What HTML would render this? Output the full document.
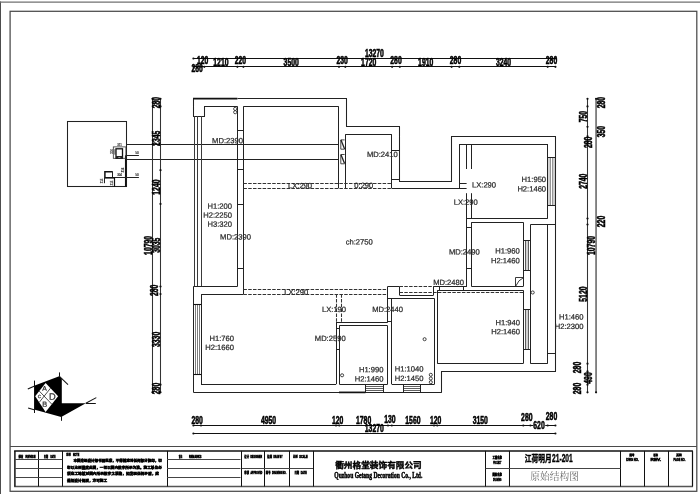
<!DOCTYPE html>
<html lang="zh"><head><meta charset="utf-8"><title>原始结构图</title>
<style>
html,body{margin:0;padding:0;background:#fff;}
body{width:700px;height:494px;overflow:hidden;}
svg{display:block;filter:grayscale(1);font-family:"Liberation Sans","Noto Sans CJK SC",sans-serif;}
text.d{font-size:10.4px;font-weight:bold;fill:#000;stroke:#000;stroke-width:0.55px;}
text.tb{font-weight:bold;fill:#000;stroke:#000;}
</style></head><body>
<svg width="700" height="494" viewBox="0 0 700 494">
<rect x="0" y="0" width="700" height="494" fill="#fff"/>
<line x1="0.3" y1="1.5" x2="0.3" y2="494" stroke="#444" stroke-width="1.3" />
<line x1="0" y1="2.1" x2="700" y2="2.1" stroke="#707070" stroke-width="1.4" />
<rect x="10.1" y="11.3" width="686.7" height="480" fill="none" stroke="#4a4a4a" stroke-width="1.25"/>
<line x1="10.1" y1="446.5" x2="696.8" y2="446.5" stroke="#4a4a4a" stroke-width="1.15" />
<line x1="14.1" y1="451.1" x2="692.9" y2="451.1" stroke="#111" stroke-width="1.5" />
<line x1="14.1" y1="486.5" x2="692.9" y2="486.5" stroke="#555" stroke-width="1.5" />
<line x1="14.9" y1="451.1" x2="14.9" y2="486.5" stroke="#111" stroke-width="1.5" />
<line x1="692.5" y1="451.1" x2="692.5" y2="486.5" stroke="#111" stroke-width="1.2" />
<line x1="38.5" y1="450.9" x2="38.5" y2="486.5" stroke="#111" stroke-width="1.05" />
<line x1="62.5" y1="450.9" x2="62.5" y2="486.5" stroke="#111" stroke-width="1.05" />
<line x1="167.5" y1="450.9" x2="167.5" y2="486.5" stroke="#111" stroke-width="1.05" />
<line x1="241.5" y1="450.9" x2="241.5" y2="486.5" stroke="#111" stroke-width="1.05" />
<line x1="264.5" y1="450.9" x2="264.5" y2="486.5" stroke="#111" stroke-width="1.05" />
<line x1="289.5" y1="450.9" x2="289.5" y2="486.5" stroke="#111" stroke-width="1.05" />
<line x1="313.5" y1="450.9" x2="313.5" y2="486.5" stroke="#111" stroke-width="1.05" />
<line x1="485.5" y1="450.9" x2="485.5" y2="486.5" stroke="#111" stroke-width="1.05" />
<line x1="509.5" y1="450.9" x2="509.5" y2="486.5" stroke="#111" stroke-width="1.05" />
<line x1="620.5" y1="450.9" x2="620.5" y2="486.5" stroke="#111" stroke-width="1.05" />
<line x1="644.5" y1="450.9" x2="644.5" y2="486.5" stroke="#111" stroke-width="1.05" />
<line x1="668.5" y1="450.9" x2="668.5" y2="486.5" stroke="#111" stroke-width="1.05" />
<line x1="14.8" y1="459.5" x2="62.3" y2="459.5" stroke="#444" stroke-width="1.05" />
<line x1="167" y1="459.5" x2="240.5" y2="459.5" stroke="#444" stroke-width="1.05" />
<line x1="14.8" y1="468.5" x2="62.3" y2="468.5" stroke="#444" stroke-width="1.05" />
<line x1="167" y1="468.5" x2="240.5" y2="468.5" stroke="#444" stroke-width="1.05" />
<line x1="14.8" y1="477.5" x2="62.3" y2="477.5" stroke="#444" stroke-width="1.05" />
<line x1="167" y1="477.5" x2="240.5" y2="477.5" stroke="#444" stroke-width="1.05" />
<line x1="241.8" y1="468.5" x2="313.0" y2="468.5" stroke="#444" stroke-width="1.05" />
<line x1="485.6" y1="468.5" x2="620.5" y2="468.5" stroke="#444" stroke-width="1.05" />
<rect x="67.5" y="121.5" width="59" height="65" fill="none" stroke="#222" stroke-width="1.05"/>
<line x1="126.5" y1="144.5" x2="338.7" y2="144.5" stroke="#222" stroke-width="1.05" />
<line x1="126.5" y1="159.5" x2="338.7" y2="159.5" stroke="#222" stroke-width="1.05" />
<line x1="125.7" y1="155.3" x2="125.7" y2="186.9" stroke="#111" stroke-width="1.5" />
<line x1="126.3" y1="155.5" x2="138.9" y2="155.5" stroke="#222" stroke-width="1.05" />
<line x1="104.4" y1="177.5" x2="138.9" y2="177.5" stroke="#222" stroke-width="1.05" />
<rect x="113.3" y="146.9" width="12.6" height="11.4" fill="none" stroke="#333" stroke-width="0.8"/>
<rect x="116.0" y="148.8" width="6.5" height="9.4" fill="none" stroke="#111" stroke-width="1.3"/>
<rect x="116.0" y="156.0" width="6.5" height="2.4" fill="#222"/>
<line x1="118.3" y1="157.5" x2="120.4" y2="157.5" stroke="#ddd" stroke-width="0.6" />
<line x1="114.5" y1="149.2" x2="114.5" y2="154.6" stroke="#333" stroke-width="0.5" />
<line x1="115.5" y1="149.2" x2="115.5" y2="154.6" stroke="#333" stroke-width="0.5" />
<polyline points="104.9,177.1 104.9,171.8 112.5,171.8" fill="none" stroke="#111" stroke-width="1.5" />
<line x1="112.5" y1="171.3" x2="112.5" y2="177.4" stroke="#222" stroke-width="1.05" />
<line x1="104.2" y1="177.9" x2="114.4" y2="177.9" stroke="#111" stroke-width="1.4" />
<line x1="114.5" y1="177.4" x2="114.5" y2="186.9" stroke="#111" stroke-width="1.2" />
<line x1="104.5" y1="177.4" x2="104.5" y2="183.2" stroke="#222" stroke-width="1.05" />
<text x="119.5" y="146.0" font-size="2.8" fill="#222" stroke="#222" stroke-width="0.15" text-anchor="middle">311</text>
<text x="137" y="154.4" font-size="2.8" fill="#222" stroke="#222" stroke-width="0.15" text-anchor="middle">50</text>
<text x="137" y="175.9" font-size="2.8" fill="#222" stroke="#222" stroke-width="0.15" text-anchor="middle">50</text>
<text x="119.5" y="176.3" font-size="2.8" fill="#222" stroke="#222" stroke-width="0.15" text-anchor="middle">304</text>
<text transform="translate(112.6,151.5) rotate(-90)" font-size="2.8" fill="#222" stroke="#222" stroke-width="0.15" text-anchor="middle">310</text>
<text transform="translate(124.2,170) rotate(-90)" font-size="2.8" fill="#222" stroke="#222" stroke-width="0.15" text-anchor="middle">816</text>
<text transform="translate(103.4,181) rotate(-90)" font-size="2.8" fill="#222" stroke="#222" stroke-width="0.15" text-anchor="middle">215</text>
<text transform="translate(113.2,183) rotate(-90)" font-size="2.8" fill="#222" stroke="#222" stroke-width="0.15" text-anchor="middle">315</text>
<line x1="193.0" y1="98.65" x2="237.4" y2="98.65" stroke="#111" stroke-width="1.7" />
<polyline points="237.5,98.5 346.5,98.5 346.5,126.5 399.5,126.5 399.5,181.5 451.5,181.5 451.5,136.5 555.5,136.5 555.5,371.5 441.5,371.5 441.5,392.5" fill="none" stroke="#222" stroke-width="1.05" />
<polyline points="193.5,98.5 193.5,116.5 204.5,116.5 204.5,106.5 237.5,106.5" fill="none" stroke="#222" stroke-width="1.05" />
<line x1="194.5" y1="116" x2="194.5" y2="286.5" stroke="#3a3a3a" stroke-width="1.05" />
<line x1="197.5" y1="116" x2="197.5" y2="286.5" stroke="#3a3a3a" stroke-width="1.05" />
<line x1="201.5" y1="116" x2="201.5" y2="286.5" stroke="#3a3a3a" stroke-width="1.05" />
<line x1="237.5" y1="106.4" x2="237.5" y2="286.5" stroke="#222" stroke-width="1.05" />
<line x1="243.5" y1="106.4" x2="243.5" y2="294.2" stroke="#222" stroke-width="1.05" />
<line x1="237.4" y1="130.5" x2="243.4" y2="130.5" stroke="#222" stroke-width="1.05" />
<line x1="237.4" y1="169.5" x2="243.4" y2="169.5" stroke="#222" stroke-width="1.05" />
<line x1="237.4" y1="204.5" x2="243.4" y2="204.5" stroke="#222" stroke-width="1.05" />
<line x1="237.4" y1="268.5" x2="243.4" y2="268.5" stroke="#222" stroke-width="1.05" />
<line x1="193.4" y1="286.5" x2="237.4" y2="286.5" stroke="#222" stroke-width="1.05" />
<line x1="201.2" y1="294.5" x2="243.4" y2="294.5" stroke="#222" stroke-width="1.05" />
<line x1="193.5" y1="286.5" x2="193.5" y2="392.3" stroke="#222" stroke-width="1.05" />
<line x1="243.4" y1="106.5" x2="338.7" y2="106.5" stroke="#222" stroke-width="1.05" />
<line x1="338.5" y1="106.4" x2="338.5" y2="188.4" stroke="#222" stroke-width="1.05" />
<line x1="345.5" y1="134.4" x2="345.5" y2="188.4" stroke="#222" stroke-width="1.05" />
<line x1="345.3" y1="134.5" x2="391.8" y2="134.5" stroke="#222" stroke-width="1.05" />
<line x1="391.5" y1="134.4" x2="391.5" y2="188.4" stroke="#222" stroke-width="1.05" />
<line x1="391.8" y1="150.5" x2="399.8" y2="150.5" stroke="#222" stroke-width="1.05" />
<line x1="391.8" y1="179.5" x2="399.8" y2="179.5" stroke="#222" stroke-width="1.05" />
<line x1="391.8" y1="188.5" x2="466.6" y2="188.5" stroke="#222" stroke-width="1.05" />
<line x1="243.4" y1="183.5" x2="391.8" y2="183.5" stroke="#333" stroke-width="1.05" stroke-dasharray="3.5 1.3"/>
<line x1="243.4" y1="188.5" x2="391.8" y2="188.5" stroke="#333" stroke-width="1.05" stroke-dasharray="3.5 1.3"/>
<line x1="459.3" y1="144.5" x2="547.7" y2="144.5" stroke="#222" stroke-width="1.05" />
<line x1="459.5" y1="144" x2="459.5" y2="188.4" stroke="#222" stroke-width="1.05" />
<line x1="547.5" y1="144" x2="547.5" y2="218.5" stroke="#222" stroke-width="1.05" />
<line x1="466.5" y1="144" x2="466.5" y2="169" stroke="#222" stroke-width="1.05" />
<line x1="471.5" y1="144" x2="471.5" y2="169" stroke="#222" stroke-width="1.05" />
<line x1="466.5" y1="193.2" x2="466.5" y2="286.9" stroke="#222" stroke-width="1.05" />
<line x1="471.5" y1="193.2" x2="471.5" y2="218.5" stroke="#222" stroke-width="1.05" />
<line x1="471.5" y1="222.3" x2="471.5" y2="286.4" stroke="#222" stroke-width="1.05" />
<line x1="459.3" y1="183.5" x2="466.6" y2="183.5" stroke="#222" stroke-width="1.05" />
<line x1="466.6" y1="218.5" x2="547.7" y2="218.5" stroke="#222" stroke-width="1.05" />
<rect x="548.2" y="157.4" width="2.5" height="48.2" fill="#cdcdcd"/><rect x="552.3" y="157.4" width="2.7" height="48.2" fill="#cdcdcd"/>
<line x1="550.5" y1="157.4" x2="550.5" y2="205.6" stroke="#666" stroke-width="0.6" />
<line x1="552.5" y1="157.4" x2="552.5" y2="205.6" stroke="#666" stroke-width="0.6" />
<line x1="547.7" y1="157.5" x2="555.4" y2="157.5" stroke="#222" stroke-width="1.05" />
<line x1="547.7" y1="205.5" x2="555.4" y2="205.5" stroke="#222" stroke-width="1.05" />
<line x1="471.4" y1="222.5" x2="523.3" y2="222.5" stroke="#222" stroke-width="1.05" />
<line x1="523.5" y1="222.3" x2="523.5" y2="286.4" stroke="#222" stroke-width="1.05" />
<line x1="530.5" y1="224.6" x2="530.5" y2="363.5" stroke="#222" stroke-width="1.05" />
<line x1="530.4" y1="224.5" x2="555.4" y2="224.5" stroke="#222" stroke-width="1.05" />
<line x1="547.5" y1="224.6" x2="547.5" y2="363.5" stroke="#222" stroke-width="1.05" />
<line x1="547.7" y1="353.5" x2="555.4" y2="353.5" stroke="#222" stroke-width="1.05" />
<line x1="530.4" y1="363.5" x2="547.7" y2="363.5" stroke="#222" stroke-width="1.05" />
<rect x="525.3" y="240.0" width="3.2" height="30.8" fill="#d2d2d2"/>
<line x1="525.5" y1="240.0" x2="525.5" y2="270.8" stroke="#3a3a3a" stroke-width="0.8" />
<line x1="528.5" y1="240.0" x2="528.5" y2="270.8" stroke="#3a3a3a" stroke-width="0.8" />
<rect x="525.3" y="309.4" width="3.2" height="40.2" fill="#d2d2d2"/>
<line x1="525.5" y1="309.4" x2="525.5" y2="349.6" stroke="#3a3a3a" stroke-width="0.8" />
<line x1="528.5" y1="309.4" x2="528.5" y2="349.6" stroke="#3a3a3a" stroke-width="0.8" />
<line x1="523.3" y1="240.5" x2="530.4" y2="240.5" stroke="#222" stroke-width="1.05" />
<line x1="523.3" y1="270.5" x2="530.4" y2="270.5" stroke="#222" stroke-width="1.05" />
<line x1="523.3" y1="309.5" x2="530.4" y2="309.5" stroke="#222" stroke-width="1.05" />
<line x1="523.3" y1="349.5" x2="530.4" y2="349.5" stroke="#222" stroke-width="1.05" />
<line x1="466.6" y1="227.5" x2="471.3" y2="227.5" stroke="#222" stroke-width="1.05" />
<line x1="466.6" y1="268.5" x2="471.3" y2="268.5" stroke="#222" stroke-width="1.05" />
<line x1="434.0" y1="286.5" x2="466.6" y2="286.5" stroke="#222" stroke-width="1.05" />
<line x1="471.4" y1="286.5" x2="523.3" y2="286.5" stroke="#222" stroke-width="1.05" />
<line x1="439.5" y1="286.9" x2="439.5" y2="290.3" stroke="#222" stroke-width="1.05" />
<line x1="463.5" y1="286.9" x2="463.5" y2="290.3" stroke="#222" stroke-width="1.05" />
<line x1="437.3" y1="290.5" x2="523.3" y2="290.5" stroke="#222" stroke-width="1.05" />
<line x1="399.5" y1="292.5" x2="523.3" y2="292.5" stroke="#333" stroke-width="1.05" stroke-dasharray="3.5 1.3"/>
<polyline points="515.5,286.5 515.5,277.5 523.5,277.5" fill="none" stroke="#222" stroke-width="0.9" />
<path d="M515.7 286.2 Q518.6 279.6 523.0 278.0" fill="none" stroke="#222" stroke-width="0.9"/>
<line x1="437.5" y1="290.3" x2="437.5" y2="363.5" stroke="#222" stroke-width="1.05" />
<line x1="437.3" y1="363.5" x2="523.3" y2="363.5" stroke="#222" stroke-width="1.05" />
<line x1="523.5" y1="290.3" x2="523.5" y2="363.5" stroke="#222" stroke-width="1.05" />
<line x1="434.5" y1="298.5" x2="434.5" y2="384.2" stroke="#222" stroke-width="1.05" />
<line x1="387.6" y1="298.5" x2="434.5" y2="298.5" stroke="#222" stroke-width="1.05" />
<line x1="391.5" y1="298.5" x2="391.5" y2="384.2" stroke="#222" stroke-width="1.05" />
<line x1="387.5" y1="286.5" x2="387.5" y2="322.6" stroke="#222" stroke-width="1.05" />
<line x1="387.5" y1="325.7" x2="387.5" y2="384.2" stroke="#222" stroke-width="1.05" />
<line x1="243.4" y1="289.5" x2="387.6" y2="289.5" stroke="#333" stroke-width="1.05" stroke-dasharray="3.5 1.3"/>
<line x1="243.4" y1="294.5" x2="387.6" y2="294.5" stroke="#333" stroke-width="1.05" stroke-dasharray="3.5 1.3"/>
<line x1="387.6" y1="286.5" x2="399.5" y2="286.5" stroke="#222" stroke-width="1.05" />
<line x1="399.5" y1="286.5" x2="399.5" y2="295.1" stroke="#222" stroke-width="1.05" />
<line x1="399.5" y1="295.5" x2="433.5" y2="295.5" stroke="#222" stroke-width="1.05" />
<line x1="433.5" y1="286.5" x2="433.5" y2="295.1" stroke="#222" stroke-width="1.05" />
<line x1="399.5" y1="286.5" x2="434.0" y2="286.5" stroke="#333" stroke-width="1.05" stroke-dasharray="3.5 1.3"/>
<line x1="336.0" y1="322.5" x2="387.6" y2="322.5" stroke="#222" stroke-width="1.05" />
<line x1="339.3" y1="325.5" x2="387.6" y2="325.5" stroke="#222" stroke-width="1.05" />
<line x1="339.5" y1="325.7" x2="339.5" y2="384.0" stroke="#222" stroke-width="1.05" />
<line x1="336.5" y1="322.6" x2="336.5" y2="384.2" stroke="#222" stroke-width="1.05" />
<line x1="336.5" y1="294.2" x2="336.5" y2="322.6" stroke="#333" stroke-width="1.05" stroke-dasharray="3.5 1.3"/>
<line x1="341.5" y1="294.2" x2="341.5" y2="322.6" stroke="#333" stroke-width="1.05" stroke-dasharray="3.5 1.3"/>
<line x1="336.0" y1="328.5" x2="339.3" y2="328.5" stroke="#222" stroke-width="1.05" />
<line x1="336.0" y1="349.5" x2="339.3" y2="349.5" stroke="#222" stroke-width="1.05" />
<line x1="387.6" y1="321.5" x2="391.8" y2="321.5" stroke="#222" stroke-width="1.05" />
<line x1="201.0" y1="384.5" x2="336.0" y2="384.5" stroke="#222" stroke-width="1.05" />
<line x1="339.3" y1="384.5" x2="387.6" y2="384.5" stroke="#222" stroke-width="1.05" />
<line x1="391.8" y1="384.5" x2="434.5" y2="384.5" stroke="#222" stroke-width="1.05" />
<line x1="193.4" y1="392.5" x2="441.8" y2="392.5" stroke="#222" stroke-width="1.05" />
<line x1="339.0" y1="392.4" x2="365.5" y2="392.4" stroke="#111" stroke-width="1.7" />
<line x1="365.4" y1="386.5" x2="383.8" y2="386.5" stroke="#3a3a3a" stroke-width="0.8" />
<line x1="365.4" y1="388.5" x2="383.8" y2="388.5" stroke="#3a3a3a" stroke-width="0.8" />
<line x1="365.4" y1="390.5" x2="383.8" y2="390.5" stroke="#3a3a3a" stroke-width="0.8" />
<line x1="365.5" y1="384" x2="365.5" y2="392.3" stroke="#222" stroke-width="1.05" />
<line x1="383.5" y1="384" x2="383.5" y2="392.3" stroke="#222" stroke-width="1.05" />
<line x1="403.8" y1="386.5" x2="420.3" y2="386.5" stroke="#3a3a3a" stroke-width="0.8" />
<line x1="403.8" y1="388.5" x2="420.3" y2="388.5" stroke="#3a3a3a" stroke-width="0.8" />
<line x1="403.8" y1="390.5" x2="420.3" y2="390.5" stroke="#3a3a3a" stroke-width="0.8" />
<line x1="403.5" y1="384" x2="403.5" y2="392.3" stroke="#222" stroke-width="1.05" />
<line x1="420.5" y1="384" x2="420.5" y2="392.3" stroke="#222" stroke-width="1.05" />
<line x1="201.5" y1="294.2" x2="201.5" y2="384.2" stroke="#222" stroke-width="1.05" />
<line x1="195.5" y1="304.5" x2="195.5" y2="374.7" stroke="#444" stroke-width="0.7" />
<line x1="197.5" y1="304.5" x2="197.5" y2="374.7" stroke="#444" stroke-width="0.7" />
<line x1="199.5" y1="304.5" x2="199.5" y2="374.7" stroke="#444" stroke-width="0.7" />
<line x1="193.4" y1="304.5" x2="201.2" y2="304.5" stroke="#111" stroke-width="1.1" />
<line x1="193.4" y1="374.5" x2="201.2" y2="374.5" stroke="#111" stroke-width="1.1" />
<polyline points="344.6,139.9 340.8,139.9 340.8,149.2 344.6,149.2" fill="none" stroke="#333" stroke-width="0.9" />
<line x1="341.0" y1="140.1" x2="344.6" y2="149.0" stroke="#222" stroke-width="1.3" />
<polyline points="344.6,154.5 340.8,154.5 340.8,163.79999999999998 344.6,163.79999999999998" fill="none" stroke="#333" stroke-width="0.9" />
<line x1="341.0" y1="154.7" x2="344.6" y2="163.6" stroke="#222" stroke-width="1.3" />
<circle cx="235.2" cy="108.9" r="1.6" fill="none" stroke="#222" stroke-width="0.8"/>
<circle cx="235.2" cy="112.2" r="1.6" fill="none" stroke="#222" stroke-width="0.8"/>
<circle cx="342.1" cy="375.3" r="1.55" fill="none" stroke="#222" stroke-width="0.85"/>
<circle cx="424.6" cy="339.2" r="1.55" fill="none" stroke="#222" stroke-width="0.85"/>
<circle cx="430.8" cy="374.8" r="1.55" fill="none" stroke="#222" stroke-width="0.85"/>
<circle cx="430.8" cy="378.5" r="1.55" fill="none" stroke="#222" stroke-width="0.85"/>
<circle cx="430.8" cy="382.2" r="1.55" fill="none" stroke="#222" stroke-width="0.85"/>
<circle cx="532.7" cy="292.5" r="1.55" fill="none" stroke="#222" stroke-width="0.85"/>
<line x1="193.4" y1="58.5" x2="555.6" y2="58.5" stroke="#111" stroke-width="1.05" />
<line x1="193.4" y1="66.5" x2="555.6" y2="66.5" stroke="#111" stroke-width="1.05" />
<circle cx="193.4" cy="66.8" r="1.1" fill="#111"/>
<circle cx="201.0" cy="66.8" r="1.1" fill="#111"/>
<circle cx="204.3" cy="66.8" r="1.1" fill="#111"/>
<circle cx="237.4" cy="66.8" r="1.1" fill="#111"/>
<circle cx="243.4" cy="66.8" r="1.1" fill="#111"/>
<circle cx="339.0" cy="66.8" r="1.1" fill="#111"/>
<circle cx="345.3" cy="66.8" r="1.1" fill="#111"/>
<circle cx="392.1" cy="66.8" r="1.1" fill="#111"/>
<circle cx="399.8" cy="66.8" r="1.1" fill="#111"/>
<circle cx="451.6" cy="66.8" r="1.1" fill="#111"/>
<circle cx="459.3" cy="66.8" r="1.1" fill="#111"/>
<circle cx="547.7" cy="66.8" r="1.1" fill="#111"/>
<circle cx="555.4" cy="66.8" r="1.1" fill="#111"/>
<circle cx="193.4" cy="58.5" r="1.1" fill="#111"/>
<circle cx="555.4" cy="58.5" r="1.1" fill="#111"/>
<line x1="193.4" y1="425.5" x2="555.6" y2="425.5" stroke="#111" stroke-width="1.05" />
<line x1="193.4" y1="433.5" x2="555.6" y2="433.5" stroke="#111" stroke-width="1.05" />
<circle cx="193.4" cy="425.5" r="1.1" fill="#111"/>
<circle cx="201.0" cy="425.5" r="1.1" fill="#111"/>
<circle cx="336.0" cy="425.5" r="1.1" fill="#111"/>
<circle cx="339.3" cy="425.5" r="1.1" fill="#111"/>
<circle cx="388.0" cy="425.5" r="1.1" fill="#111"/>
<circle cx="391.8" cy="425.5" r="1.1" fill="#111"/>
<circle cx="434.0" cy="425.5" r="1.1" fill="#111"/>
<circle cx="437.3" cy="425.5" r="1.1" fill="#111"/>
<circle cx="523.3" cy="425.5" r="1.1" fill="#111"/>
<circle cx="530.4" cy="425.5" r="1.1" fill="#111"/>
<circle cx="547.7" cy="425.5" r="1.1" fill="#111"/>
<circle cx="555.4" cy="425.5" r="1.1" fill="#111"/>
<circle cx="193.4" cy="433.5" r="1.1" fill="#111"/>
<circle cx="555.4" cy="433.5" r="1.1" fill="#111"/>
<line x1="152.5" y1="98.6" x2="152.5" y2="392.5" stroke="#333" stroke-width="1.05" />
<line x1="160.5" y1="98.6" x2="160.5" y2="392.5" stroke="#333" stroke-width="1.05" />
<circle cx="160.5" cy="98.8" r="1.1" fill="#111"/>
<circle cx="160.5" cy="106.4" r="1.1" fill="#111"/>
<circle cx="160.5" cy="170.2" r="1.1" fill="#111"/>
<circle cx="160.5" cy="203.9" r="1.1" fill="#111"/>
<circle cx="160.5" cy="286.5" r="1.1" fill="#111"/>
<circle cx="160.5" cy="294.1" r="1.1" fill="#111"/>
<circle cx="160.5" cy="384.7" r="1.1" fill="#111"/>
<circle cx="160.5" cy="392.3" r="1.1" fill="#111"/>
<circle cx="152.5" cy="98.8" r="1.1" fill="#111"/>
<circle cx="152.5" cy="392.3" r="1.1" fill="#111"/>
<line x1="587.5" y1="98.6" x2="587.5" y2="392.5" stroke="#333" stroke-width="1.05" />
<line x1="596.05" y1="98.6" x2="596.05" y2="392.5" stroke="#3a3a3a" stroke-width="1.21" />
<circle cx="587.5" cy="98.8" r="1.1" fill="#111"/>
<circle cx="587.5" cy="106.4" r="1.1" fill="#111"/>
<circle cx="587.5" cy="126.8" r="1.1" fill="#111"/>
<circle cx="587.5" cy="136.3" r="1.1" fill="#111"/>
<circle cx="587.5" cy="143.9" r="1.1" fill="#111"/>
<circle cx="587.5" cy="218.5" r="1.1" fill="#111"/>
<circle cx="587.5" cy="224.5" r="1.1" fill="#111"/>
<circle cx="587.5" cy="363.7" r="1.1" fill="#111"/>
<circle cx="587.5" cy="371.4" r="1.1" fill="#111"/>
<circle cx="587.5" cy="384.7" r="1.1" fill="#111"/>
<circle cx="587.5" cy="392.3" r="1.1" fill="#111"/>
<circle cx="596.05" cy="98.8" r="1.1" fill="#111"/>
<circle cx="596.05" cy="392.3" r="1.1" fill="#111"/>
<rect x="533.2" y="423.5" width="12" height="3" fill="#fff"/>
<text class="d" x="191.5" y="72.3" textLength="11.4" lengthAdjust="spacingAndGlyphs">280</text>
<text class="d" x="197.0" y="64.3" textLength="11.4" lengthAdjust="spacingAndGlyphs">120</text>
<text class="d" x="213.3" y="65.8" textLength="15.2" lengthAdjust="spacingAndGlyphs">1210</text>
<text class="d" x="234.7" y="64.3" textLength="11.4" lengthAdjust="spacingAndGlyphs">220</text>
<text class="d" x="283.6" y="65.8" textLength="15.2" lengthAdjust="spacingAndGlyphs">3500</text>
<text class="d" x="336.4" y="64.3" textLength="11.4" lengthAdjust="spacingAndGlyphs">230</text>
<text class="d" x="361.1" y="65.9" textLength="15.2" lengthAdjust="spacingAndGlyphs">1720</text>
<text class="d" x="390.3" y="64.2" textLength="11.4" lengthAdjust="spacingAndGlyphs">280</text>
<text class="d" x="418.1" y="65.9" textLength="15.2" lengthAdjust="spacingAndGlyphs">1910</text>
<text class="d" x="449.8" y="64.2" textLength="11.4" lengthAdjust="spacingAndGlyphs">280</text>
<text class="d" x="495.9" y="65.9" textLength="15.2" lengthAdjust="spacingAndGlyphs">3240</text>
<text class="d" x="545.8" y="64.2" textLength="11.4" lengthAdjust="spacingAndGlyphs">280</text>
<text class="d" x="364.9" y="57.4" textLength="19.0" lengthAdjust="spacingAndGlyphs">13270</text>
<text class="d" x="191.5" y="423.6" textLength="11.4" lengthAdjust="spacingAndGlyphs">280</text>
<text class="d" x="260.9" y="424.3" textLength="15.2" lengthAdjust="spacingAndGlyphs">4950</text>
<text class="d" x="331.9" y="423.6" textLength="11.4" lengthAdjust="spacingAndGlyphs">120</text>
<text class="d" x="356.0" y="424.3" textLength="15.2" lengthAdjust="spacingAndGlyphs">1780</text>
<text class="d" x="384.2" y="422.7" textLength="11.4" lengthAdjust="spacingAndGlyphs">130</text>
<text class="d" x="405.3" y="424.3" textLength="15.2" lengthAdjust="spacingAndGlyphs">1560</text>
<text class="d" x="429.9" y="423.6" textLength="11.4" lengthAdjust="spacingAndGlyphs">120</text>
<text class="d" x="472.7" y="424.3" textLength="15.2" lengthAdjust="spacingAndGlyphs">3150</text>
<text class="d" x="521.1" y="420.7" textLength="11.4" lengthAdjust="spacingAndGlyphs">280</text>
<text class="d" x="533.3" y="429.3" textLength="11.4" lengthAdjust="spacingAndGlyphs">620</text>
<text class="d" x="545.8" y="420.2" textLength="11.4" lengthAdjust="spacingAndGlyphs">280</text>
<text class="d" x="364.8" y="432" textLength="19.0" lengthAdjust="spacingAndGlyphs">13270</text>
<text class="d" transform="translate(159.6,108.3) rotate(-90)" x="0" y="0" textLength="11.4" lengthAdjust="spacingAndGlyphs">280</text>
<text class="d" transform="translate(160.0,145.9) rotate(-90)" x="0" y="0" textLength="15.2" lengthAdjust="spacingAndGlyphs">2345</text>
<text class="d" transform="translate(160.0,194.7) rotate(-90)" x="0" y="0" textLength="15.2" lengthAdjust="spacingAndGlyphs">1240</text>
<text class="d" transform="translate(160.0,252.8) rotate(-90)" x="0" y="0" textLength="15.2" lengthAdjust="spacingAndGlyphs">3035</text>
<text class="d" transform="translate(158.4,296.0) rotate(-90)" x="0" y="0" textLength="11.4" lengthAdjust="spacingAndGlyphs">280</text>
<text class="d" transform="translate(160.0,347.0) rotate(-90)" x="0" y="0" textLength="15.2" lengthAdjust="spacingAndGlyphs">3330</text>
<text class="d" transform="translate(159.6,394.2) rotate(-90)" x="0" y="0" textLength="11.4" lengthAdjust="spacingAndGlyphs">280</text>
<text class="d" transform="translate(151.5,254.9) rotate(-90)" x="0" y="0" textLength="19.0" lengthAdjust="spacingAndGlyphs">10790</text>
<text class="d" transform="translate(605,108.3) rotate(-90)" x="0" y="0" textLength="11.4" lengthAdjust="spacingAndGlyphs">280</text>
<text class="d" transform="translate(587.2,122.3) rotate(-90)" x="0" y="0" textLength="11.4" lengthAdjust="spacingAndGlyphs">750</text>
<text class="d" transform="translate(605,137.3) rotate(-90)" x="0" y="0" textLength="11.4" lengthAdjust="spacingAndGlyphs">350</text>
<text class="d" transform="translate(591.6,148.1) rotate(-90)" x="0" y="0" textLength="11.4" lengthAdjust="spacingAndGlyphs">280</text>
<text class="d" transform="translate(587.2,188.8) rotate(-90)" x="0" y="0" textLength="15.2" lengthAdjust="spacingAndGlyphs">2740</text>
<text class="d" transform="translate(605,227.2) rotate(-90)" x="0" y="0" textLength="11.4" lengthAdjust="spacingAndGlyphs">220</text>
<text class="d" transform="translate(587.0,301.7) rotate(-90)" x="0" y="0" textLength="15.2" lengthAdjust="spacingAndGlyphs">5120</text>
<text class="d" transform="translate(581.2,373.2) rotate(-90)" x="0" y="0" textLength="11.4" lengthAdjust="spacingAndGlyphs">280</text>
<text class="d" transform="translate(591.6,383.7) rotate(-90)" x="0" y="0" textLength="11.4" lengthAdjust="spacingAndGlyphs">490</text>
<text class="d" transform="translate(581.2,394.2) rotate(-90)" x="0" y="0" textLength="11.4" lengthAdjust="spacingAndGlyphs">280</text>
<text class="d" transform="translate(595.4,255.0) rotate(-90)" x="0" y="0" textLength="19.0" lengthAdjust="spacingAndGlyphs">10790</text>
<text transform="translate(212.1,143.2) rotate(0.03)" font-size="7.6" fill="#2a2a2a" text-anchor="start" stroke="#2a2a2a" stroke-width="0.24">MD:2390</text>
<text transform="translate(232,208.8) rotate(0.03)" font-size="7.6" fill="#2a2a2a" text-anchor="end" stroke="#2a2a2a" stroke-width="0.24">H1:200</text>
<text transform="translate(232,217.7) rotate(0.03)" font-size="7.6" fill="#2a2a2a" text-anchor="end" stroke="#2a2a2a" stroke-width="0.24">H2:2250</text>
<text transform="translate(232,226.7) rotate(0.03)" font-size="7.6" fill="#2a2a2a" text-anchor="end" stroke="#2a2a2a" stroke-width="0.24">H3:320</text>
<text transform="translate(220.1,239.5) rotate(0.03)" font-size="7.6" fill="#2a2a2a" text-anchor="start" stroke="#2a2a2a" stroke-width="0.24">MD:2390</text>
<text transform="translate(345.7,244.5) rotate(0.03)" font-size="7.6" fill="#2a2a2a" text-anchor="start" stroke="#2a2a2a" stroke-width="0.24">ch:2750</text>
<text transform="translate(288.0,188.2) rotate(0.03)" font-size="7.6" fill="#2a2a2a" text-anchor="start" stroke="#2a2a2a" stroke-width="0.24">LX:290</text>
<text transform="translate(284.2,294.7) rotate(0.03)" font-size="7.6" fill="#2a2a2a" text-anchor="start" stroke="#2a2a2a" stroke-width="0.24">LX:290</text>
<text transform="translate(354.3,187.9) rotate(0.03)" font-size="7.6" fill="#2a2a2a" text-anchor="start" stroke="#2a2a2a" stroke-width="0.24">0:290</text>
<text transform="translate(366.9,157) rotate(0.03)" font-size="7.6" fill="#2a2a2a" text-anchor="start" stroke="#2a2a2a" stroke-width="0.24">MD:2410</text>
<text transform="translate(472.0,187.5) rotate(0.03)" font-size="7.6" fill="#2a2a2a" text-anchor="start" stroke="#2a2a2a" stroke-width="0.24">LX:290</text>
<text transform="translate(453.7,204.8) rotate(0.03)" font-size="7.6" fill="#2a2a2a" text-anchor="start" stroke="#2a2a2a" stroke-width="0.24">LX:290</text>
<text transform="translate(546.1,182.1) rotate(0.03)" font-size="7.6" fill="#2a2a2a" text-anchor="end" stroke="#2a2a2a" stroke-width="0.24">H1:950</text>
<text transform="translate(546.1,191.4) rotate(0.03)" font-size="7.6" fill="#2a2a2a" text-anchor="end" stroke="#2a2a2a" stroke-width="0.24">H2:1460</text>
<text transform="translate(448.9,254.4) rotate(0.03)" font-size="7.6" fill="#2a2a2a" text-anchor="start" stroke="#2a2a2a" stroke-width="0.24">MD:2490</text>
<text transform="translate(519.7,253.5) rotate(0.03)" font-size="7.6" fill="#2a2a2a" text-anchor="end" stroke="#2a2a2a" stroke-width="0.24">H1:960</text>
<text transform="translate(519.7,263.2) rotate(0.03)" font-size="7.6" fill="#2a2a2a" text-anchor="end" stroke="#2a2a2a" stroke-width="0.24">H2:1460</text>
<text transform="translate(433.2,284.9) rotate(0.03)" font-size="7.6" fill="#2a2a2a" text-anchor="start" stroke="#2a2a2a" stroke-width="0.24">MD:2480</text>
<text transform="translate(520,325.2) rotate(0.03)" font-size="7.6" fill="#2a2a2a" text-anchor="end" stroke="#2a2a2a" stroke-width="0.24">H1:940</text>
<text transform="translate(520,334.3) rotate(0.03)" font-size="7.6" fill="#2a2a2a" text-anchor="end" stroke="#2a2a2a" stroke-width="0.24">H2:1460</text>
<text transform="translate(583.5,319.6) rotate(0.03)" font-size="7.6" fill="#2a2a2a" text-anchor="end" stroke="#2a2a2a" stroke-width="0.24">H1:460</text>
<text transform="translate(583.5,329) rotate(0.03)" font-size="7.6" fill="#2a2a2a" text-anchor="end" stroke="#2a2a2a" stroke-width="0.24">H2:2300</text>
<text transform="translate(322.0,312) rotate(0.03)" font-size="7.6" fill="#2a2a2a" text-anchor="start" stroke="#2a2a2a" stroke-width="0.24">LX:190</text>
<text transform="translate(372.2,312) rotate(0.03)" font-size="7.6" fill="#2a2a2a" text-anchor="start" stroke="#2a2a2a" stroke-width="0.24">MD:2440</text>
<text transform="translate(314.8,341) rotate(0.03)" font-size="7.6" fill="#2a2a2a" text-anchor="start" stroke="#2a2a2a" stroke-width="0.24">MD:2590</text>
<text transform="translate(234,341) rotate(0.03)" font-size="7.6" fill="#2a2a2a" text-anchor="end" stroke="#2a2a2a" stroke-width="0.24">H1:760</text>
<text transform="translate(234,350) rotate(0.03)" font-size="7.6" fill="#2a2a2a" text-anchor="end" stroke="#2a2a2a" stroke-width="0.24">H2:1660</text>
<text transform="translate(383.4,372.3) rotate(0.03)" font-size="7.6" fill="#2a2a2a" text-anchor="end" stroke="#2a2a2a" stroke-width="0.24">H1:990</text>
<text transform="translate(383.4,381.6) rotate(0.03)" font-size="7.6" fill="#2a2a2a" text-anchor="end" stroke="#2a2a2a" stroke-width="0.24">H2:1460</text>
<text transform="translate(394.8,371.6) rotate(0.03)" font-size="7.6" fill="#2a2a2a" text-anchor="start" stroke="#2a2a2a" stroke-width="0.24">H1:1040</text>
<text transform="translate(394.8,380.9) rotate(0.03)" font-size="7.6" fill="#2a2a2a" text-anchor="start" stroke="#2a2a2a" stroke-width="0.24">H2:1450</text>
<polygon points="34.1,385.8 59.2,376.2 61.8,378.7 61.8,403.2 85.8,403.2 61.2,416.9 34.1,409.6" fill="#000"/>
<polygon points="45.6,383.1 58.1,396.2 45.6,412.1 35.2,396.2" fill="#fff"/>
<line x1="39.25" y1="391.05" x2="51.8" y2="404.2" stroke="#222" stroke-width="0.8" />
<line x1="50.5" y1="388.2" x2="39.25" y2="402.3" stroke="#222" stroke-width="0.8" />
<line x1="34.5" y1="380.6" x2="34.5" y2="413" stroke="#111" stroke-width="1.05" />
<line x1="27.8" y1="389" x2="34.1" y2="386.2" stroke="#111" stroke-width="1.05" />
<line x1="28.1" y1="407.9" x2="34.1" y2="409.8" stroke="#111" stroke-width="1.05" />
<line x1="59.5" y1="372.4" x2="59.5" y2="376.2" stroke="#111" stroke-width="1.05" />
<line x1="61.5" y1="416.2" x2="61.5" y2="420.8" stroke="#111" stroke-width="1.05" />
<line x1="59.2" y1="376.2" x2="68" y2="384.6" stroke="#111" stroke-width="1.05" />
<line x1="85.8" y1="403.2" x2="96.3" y2="397.6" stroke="#111" stroke-width="1.05" />
<line x1="85.8" y1="403.5" x2="95.8" y2="403.5" stroke="#111" stroke-width="1.05" />
<text transform="translate(44.6,390.8) rotate(0.03)" font-size="6.8" fill="#333" text-anchor="middle" stroke="#2a2a2a" stroke-width="0.24">A</text>
<text transform="translate(52.3,399.8) rotate(0.03)" font-size="9.3" fill="#333" text-anchor="middle" stroke="#2a2a2a" stroke-width="0.24">D</text>
<text transform="translate(44.6,406.7) rotate(0.03)" font-size="7.4" fill="#333" text-anchor="middle" stroke="#2a2a2a" stroke-width="0.24">B</text>
<text transform="translate(39.5,398) rotate(0.03)" font-size="4.6" fill="#333" text-anchor="middle" stroke="#2a2a2a" stroke-width="0.24">C</text>
<text class="tb" x="18.4" y="457.7" font-size="3.2" stroke-width="0.35" textLength="4.9" lengthAdjust="spacingAndGlyphs">修改</text>
<text class="tb" x="25.4" y="458" font-size="2.8" stroke-width="0.45" textLength="10.1" lengthAdjust="spacingAndGlyphs">REVISE</text>
<text class="tb" x="43.8" y="457.7" font-size="3.2" stroke-width="0.35" textLength="4.3" lengthAdjust="spacingAndGlyphs">日期</text>
<text class="tb" x="50.4" y="458" font-size="2.8" stroke-width="0.45" textLength="5.0" lengthAdjust="spacingAndGlyphs">DATE</text>
<text class="tb" x="66.3" y="455.8" font-size="3.2" stroke-width="0.35" textLength="4.4" lengthAdjust="spacingAndGlyphs">说明</text>
<text class="tb" x="72.9" y="456" font-size="2.8" stroke-width="0.45" textLength="6.3" lengthAdjust="spacingAndGlyphs">NOTE</text>
<text class="tb" x="73.4" y="462.0" font-size="3.7" stroke-width="0.45" textLength="88.4" lengthAdjust="spacingAndGlyphs">本图未经设计师书面批准，不得随意将任何部分翻印，切</text>
<text class="tb" x="67.1" y="468.9" font-size="3.7" stroke-width="0.45" textLength="94.7" lengthAdjust="spacingAndGlyphs">勿以比例量度此图，一切以图内数字所示为准。施工单位必</text>
<text class="tb" x="67.1" y="475.1" font-size="3.7" stroke-width="0.45" textLength="91.9" lengthAdjust="spacingAndGlyphs">须在工地核对图内所示数字之准确，如发现任何矛盾，应</text>
<text class="tb" x="67.1" y="481.6" font-size="3.7" stroke-width="0.45" textLength="40" lengthAdjust="spacingAndGlyphs">通知设计师后，方可施工</text>
<text class="tb" x="178.7" y="457.6" font-size="3.2" stroke-width="0.35" textLength="3.6" lengthAdjust="spacingAndGlyphs">备注</text>
<text class="tb" x="188.9" y="458" font-size="2.8" stroke-width="0.45" textLength="12.6" lengthAdjust="spacingAndGlyphs">REMARKS</text>
<text class="tb" x="244.3" y="457.6" font-size="3.2" stroke-width="0.35" textLength="4.7" lengthAdjust="spacingAndGlyphs">设计</text>
<text class="tb" x="250.5" y="458" font-size="2.8" stroke-width="0.45" textLength="11.5" lengthAdjust="spacingAndGlyphs">DESIGNER</text>
<text class="tb" x="267.3" y="457.6" font-size="3.2" stroke-width="0.35" textLength="4.7" lengthAdjust="spacingAndGlyphs">绘图</text>
<text class="tb" x="273.5" y="458" font-size="2.8" stroke-width="0.45" textLength="8.9" lengthAdjust="spacingAndGlyphs">DRAW BY</text>
<text class="tb" x="293" y="457.6" font-size="3.2" stroke-width="0.35" textLength="4.7" lengthAdjust="spacingAndGlyphs">比例</text>
<text class="tb" x="299.2" y="458" font-size="2.8" stroke-width="0.45" textLength="8.6" lengthAdjust="spacingAndGlyphs">SCALE</text>
<text class="tb" x="244.3" y="474.0" font-size="3.2" stroke-width="0.35" textLength="4.7" lengthAdjust="spacingAndGlyphs">审核</text>
<text class="tb" x="250.5" y="474" font-size="2.8" stroke-width="0.45" textLength="11.8" lengthAdjust="spacingAndGlyphs">APPROVED</text>
<text class="tb" x="265.8" y="474.0" font-size="3.2" stroke-width="0.35" textLength="4.7" lengthAdjust="spacingAndGlyphs">图号</text>
<text class="tb" x="272" y="474" font-size="2.8" stroke-width="0.45" textLength="14.3" lengthAdjust="spacingAndGlyphs">DRAWING NO.</text>
<text class="tb" x="294.5" y="474.0" font-size="3.2" stroke-width="0.35" textLength="4.7" lengthAdjust="spacingAndGlyphs">日期</text>
<text class="tb" x="300.7" y="474" font-size="2.8" stroke-width="0.45" textLength="6.0" lengthAdjust="spacingAndGlyphs">DATE</text>
<text x="335.2" y="468" font-size="8.1" font-weight="bold" fill="#000" stroke="#000" stroke-width="0.4" textLength="86.6" lengthAdjust="spacingAndGlyphs">衢州格堂装饰有限公司</text>
<text x="334.3" y="478" font-size="7.2" font-weight="bold" fill="#000" stroke="#000" stroke-width="0.45" font-family="'Liberation Serif',serif" textLength="88" lengthAdjust="spacingAndGlyphs">Quzhou Getang Decoration Co., Ltd.</text>
<text class="tb" x="492.5" y="459" font-size="3.0" stroke-width="0.45" textLength="9.3" lengthAdjust="spacingAndGlyphs">工程名称</text>
<text class="tb" x="493.2" y="464" font-size="3.8" stroke-width="0.5" textLength="8.2" lengthAdjust="spacingAndGlyphs">PROJECT</text>
<text class="tb" x="492.5" y="476" font-size="3.0" stroke-width="0.45" textLength="9.3" lengthAdjust="spacingAndGlyphs">图纸名称</text>
<text class="tb" x="493.0" y="481" font-size="3.8" stroke-width="0.5" textLength="8.4" lengthAdjust="spacingAndGlyphs">DRAWING</text>
<text x="524.8" y="461.7" font-size="8.8" font-weight="bold" fill="#000" stroke="#000" stroke-width="0.4" textLength="27" lengthAdjust="spacingAndGlyphs">江荷明月</text>
<text x="552.1" y="462" font-size="11" font-weight="bold" fill="#000" stroke="#000" stroke-width="0.4" textLength="20.6" lengthAdjust="spacingAndGlyphs">21-201</text>
<text x="530.3" y="479.6" font-size="9.7" fill="#6a6a6a" font-family="'Liberation Serif','Noto Serif CJK SC',serif" textLength="48.7">原始结构图</text>
<text class="tb" x="629.6" y="456.4" font-size="2.7" stroke-width="0.45" textLength="4.8" lengthAdjust="spacingAndGlyphs">图号</text>
<text class="tb" x="626.2" y="461.0" font-size="3.7" stroke-width="0.5" textLength="12.5" lengthAdjust="spacingAndGlyphs">DWG NO.</text>
<text class="tb" x="653.6" y="456.4" font-size="2.7" stroke-width="0.45" textLength="4.5" lengthAdjust="spacingAndGlyphs">版本</text>
<text class="tb" x="650.5" y="461.0" font-size="3.7" stroke-width="0.5" textLength="10.6" lengthAdjust="spacingAndGlyphs">REV.</text>
<text class="tb" x="676.3" y="456.4" font-size="2.7" stroke-width="0.45" textLength="5.5" lengthAdjust="spacingAndGlyphs">页码</text>
<text class="tb" x="673.5" y="461.0" font-size="3.7" stroke-width="0.5" textLength="11.9" lengthAdjust="spacingAndGlyphs">PAGE NO.</text>
</svg>
</body></html>
